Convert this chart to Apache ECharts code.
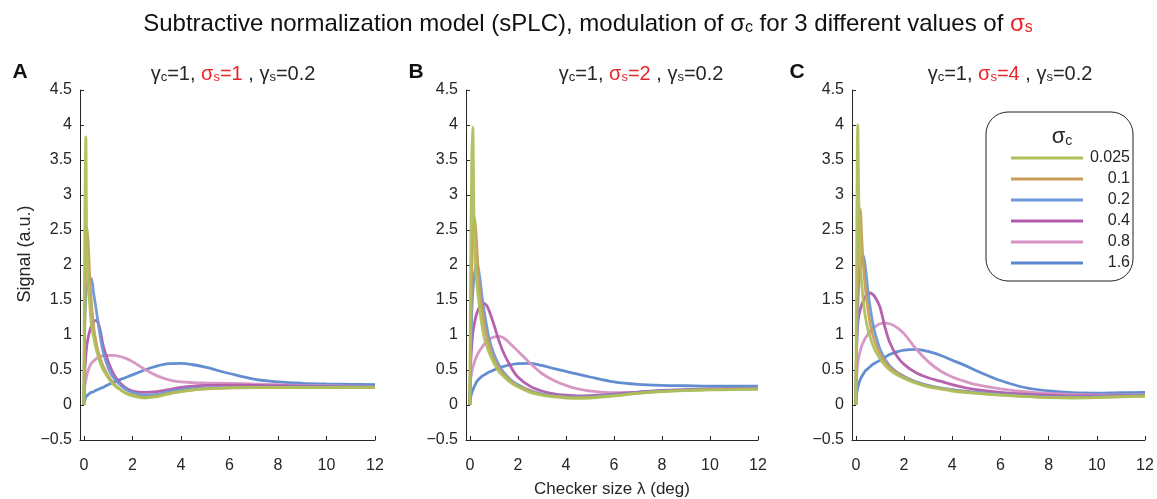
<!DOCTYPE html>
<html><head><meta charset="utf-8">
<script src="https://cdn.jsdelivr.net/npm/echarts@6/dist/echarts.min.js"></script>
<style>html,body{margin:0;padding:0;background:#fff}#c{width:1157px;height:499px}</style>
</head><body><div id="c"></div>
<script>
// ---- data ----
const X = [0, 0.03, 0.08, 0.12, 0.18, 0.25, 0.3, 0.4, 0.5, 0.6, 0.7, 0.8, 1, 1.2, 1.4, 1.7, 2, 2.5, 3, 3.5, 4, 4.5, 5, 6, 7, 8, 9, 10, 11, 12];
const sigmaC = ['0.025', '0.1', '0.2', '0.4', '0.8', '1.6'];
const xTicks = [0, 2, 4, 6, 8, 10, 12];

// Panel A (sigma_s = 1)
const a025 = [0, 2.2, 3.83, 2.3, 1.75, 1.4, 1.17, 0.97, 0.81, 0.68, 0.58, 0.5, 0.39, 0.3, 0.24, 0.17, 0.13, 0.1, 0.12, 0.16, 0.19, 0.215, 0.23, 0.245, 0.25, 0.25, 0.25, 0.25, 0.25, 0.25];
const a010 = [0, 1.0, 2.1, 2.55, 2.3, 1.75, 1.5, 1.12, 0.9, 0.75, 0.64, 0.55, 0.42, 0.32, 0.25, 0.18, 0.14, 0.11, 0.125, 0.165, 0.195, 0.215, 0.23, 0.245, 0.25, 0.25, 0.25, 0.25, 0.25, 0.25];
const a020 = [0, 1.1, 1.55, 1.68, 1.77, 1.8, 1.81, 1.6, 1.38, 1.15, 0.93, 0.75, 0.53, 0.4, 0.32, 0.23, 0.18, 0.14, 0.15, 0.19, 0.22, 0.235, 0.245, 0.25, 0.255, 0.255, 0.26, 0.26, 0.26, 0.26];
const a040 = [0, 0.45, 0.7, 0.85, 0.97, 1.07, 1.12, 1.19, 1.21, 1.16, 1.02, 0.84, 0.62, 0.46, 0.35, 0.25, 0.2, 0.18, 0.19, 0.22, 0.25, 0.27, 0.28, 0.285, 0.28, 0.275, 0.27, 0.265, 0.26, 0.26];
const a080 = [0, 0.25, 0.35, 0.42, 0.5, 0.56, 0.59, 0.63, 0.66, 0.68, 0.695, 0.705, 0.71, 0.71, 0.7, 0.67, 0.62, 0.51, 0.42, 0.36, 0.33, 0.32, 0.315, 0.31, 0.3, 0.29, 0.28, 0.275, 0.27, 0.265];
const a160 = [0, 0.06, 0.11, 0.13, 0.15, 0.17, 0.18, 0.19, 0.21, 0.225, 0.24, 0.255, 0.29, 0.32, 0.35, 0.39, 0.43, 0.5, 0.555, 0.59, 0.595, 0.575, 0.54, 0.45, 0.37, 0.33, 0.31, 0.3, 0.295, 0.29];

// Panel B (sigma_s = 2)
const b025 = [0, 1.8, 3.5, 3.97, 2.5, 1.9, 1.7, 1.4, 1.15, 0.96, 0.85, 0.75, 0.6, 0.48, 0.41, 0.32, 0.26, 0.18, 0.14, 0.115, 0.1, 0.095, 0.1, 0.13, 0.165, 0.19, 0.205, 0.215, 0.22, 0.225];
const b010 = [0, 0.9, 1.9, 2.4, 2.7, 2.5, 2.2, 1.65, 1.38, 1.15, 0.98, 0.85, 0.65, 0.53, 0.44, 0.34, 0.27, 0.2, 0.15, 0.125, 0.11, 0.105, 0.11, 0.135, 0.17, 0.195, 0.21, 0.22, 0.225, 0.23];
const b020 = [0, 0.7, 1.3, 1.6, 1.85, 1.97, 2.01, 1.85, 1.57, 1.33, 1.13, 0.95, 0.73, 0.58, 0.47, 0.36, 0.29, 0.21, 0.16, 0.135, 0.12, 0.115, 0.12, 0.145, 0.175, 0.2, 0.215, 0.225, 0.23, 0.235];
const b040 = [0, 0.55, 0.85, 1.02, 1.15, 1.26, 1.32, 1.4, 1.44, 1.45, 1.42, 1.35, 1.15, 0.93, 0.75, 0.55, 0.4, 0.27, 0.2, 0.16, 0.14, 0.13, 0.135, 0.155, 0.185, 0.21, 0.22, 0.23, 0.235, 0.235];
const b080 = [0, 0.35, 0.47, 0.53, 0.6, 0.67, 0.71, 0.77, 0.82, 0.87, 0.91, 0.94, 0.97, 0.98, 0.96, 0.87, 0.77, 0.6, 0.45, 0.35, 0.28, 0.23, 0.2, 0.175, 0.185, 0.2, 0.215, 0.225, 0.235, 0.24];
const b160 = [0, 0.1, 0.17, 0.21, 0.26, 0.31, 0.34, 0.38, 0.41, 0.43, 0.45, 0.47, 0.5, 0.53, 0.55, 0.575, 0.59, 0.595, 0.565, 0.52, 0.48, 0.44, 0.4, 0.33, 0.295, 0.28, 0.275, 0.27, 0.27, 0.27];

// Panel C (sigma_s = 4)
const c025 = [0, 2.0, 4.0, 3.0, 2.05, 1.72, 1.52, 1.25, 1.08, 0.96, 0.86, 0.78, 0.66, 0.57, 0.5, 0.43, 0.38, 0.31, 0.26, 0.23, 0.2, 0.18, 0.165, 0.14, 0.12, 0.105, 0.1, 0.105, 0.115, 0.125];
const c010 = [0, 0.9, 1.9, 2.5, 2.8, 2.35, 2.05, 1.65, 1.37, 1.15, 1.0, 0.89, 0.73, 0.62, 0.54, 0.46, 0.4, 0.32, 0.27, 0.235, 0.21, 0.19, 0.17, 0.145, 0.125, 0.11, 0.105, 0.11, 0.12, 0.13];
const c020 = [0, 0.8, 1.4, 1.7, 1.95, 2.1, 2.14, 1.95, 1.63, 1.38, 1.17, 1.02, 0.8, 0.66, 0.56, 0.47, 0.41, 0.33, 0.28, 0.245, 0.22, 0.2, 0.18, 0.155, 0.135, 0.12, 0.115, 0.12, 0.13, 0.14];
const c040 = [0, 0.8, 1.15, 1.27, 1.36, 1.44, 1.48, 1.55, 1.59, 1.6, 1.58, 1.54, 1.4, 1.12, 0.9, 0.7, 0.58, 0.46, 0.39, 0.34, 0.29, 0.25, 0.22, 0.18, 0.155, 0.14, 0.13, 0.13, 0.135, 0.14];
const c080 = [0, 0.4, 0.6, 0.68, 0.77, 0.85, 0.89, 0.96, 1.01, 1.06, 1.1, 1.12, 1.16, 1.17, 1.16, 1.11, 1.02, 0.8, 0.62, 0.49, 0.4, 0.34, 0.29, 0.23, 0.19, 0.165, 0.15, 0.145, 0.145, 0.15];
const c160 = [0, 0.15, 0.25, 0.3, 0.36, 0.41, 0.44, 0.49, 0.52, 0.55, 0.58, 0.6, 0.64, 0.68, 0.72, 0.76, 0.785, 0.795, 0.765, 0.71, 0.64, 0.57, 0.49, 0.35, 0.25, 0.2, 0.175, 0.17, 0.175, 0.18];

const panels = [
  [a025, a010, a020, a040, a080, a160],
  [b025, b010, b020, b040, b080, b160],
  [c025, c010, c020, c040, c080, c160]
];

// ---- style ----
const FONT = '"Liberation Sans", Arial, Helvetica, sans-serif';
const INK = '#262626';
const RED = '#e8262a';
const colors = ['#aec05c', '#c99f58', '#6a98d6', '#b25aa9', '#d592c3', '#5b87cf'];
const gridBoxes = [
  { left: 80, top: 90, width: 295, height: 350 },
  { left: 466, top: 90, width: 292, height: 350 },
  { left: 852, top: 90, width: 293, height: 350 }
];

const chart = echarts.init(document.getElementById('c'), null, { renderer: 'canvas' });

const grids = gridBoxes.map(g => Object.assign({ containLabel: false, outerBoundsMode: 'none' }, g));

const xAxes = gridBoxes.map((g, i) => ({
  type: 'value', gridIndex: i, min: -0.16, max: 12,
  axisLine: { show: true, onZero: false, lineStyle: { color: INK, width: 1 } },
  axisTick: { show: true, inside: true, length: 4, customValues: xTicks, lineStyle: { color: INK } },
  axisLabel: { customValues: xTicks, margin: 18, fontSize: 16, color: INK, fontFamily: FONT },
  splitLine: { show: false },
  name: i === 1 ? 'Checker size λ (deg)' : '',
  nameLocation: 'middle', nameGap: 41,
  nameTextStyle: { fontSize: 17, color: INK, fontFamily: FONT }
}));

const yAxes = gridBoxes.map((g, i) => ({
  type: 'value', gridIndex: i, min: -0.5, max: 4.5, interval: 0.5,
  axisLine: { show: true, onZero: false, lineStyle: { color: INK, width: 1 } },
  axisTick: { show: true, inside: true, length: 4, lineStyle: { color: INK } },
  axisLabel: { margin: 8, fontSize: 16, color: INK, fontFamily: FONT,
    formatter: v => (v < 0 ? '\u2212' + Math.abs(v) : String(v)) },
  splitLine: { show: false }
}));

const series = [];
panels.forEach((arrs, p) => {
  arrs.forEach((arr, k) => {
    series.push({
      type: 'line', name: sigmaC[k], xAxisIndex: p, yAxisIndex: p,
      data: X.map((x, i) => [x, arr[i]]),
      showSymbol: false, smooth: 0.35, clip: true,
      lineStyle: { width: 2.8, color: colors[k], opacity: 0.95 },
      itemStyle: { color: colors[k] },
      emphasis: { disabled: true },
      z: 2 + (5 - k) * 0.1
    });
  });
});

const sub = (size) => ({ fontSize: size, lineHeight: size - 1, verticalAlign: 'bottom', fontFamily: FONT });

function header(x, sVal) {
  return {
    type: 'text', x: x, y: 72,
    style: {
      text: '{n|γ}{sb|c}{n|=1, }{r|σ}{rs|s}{r|=' + sVal + '}{n| , }{n|γ}{sb|s}{n|=0.2}',
      align: 'center', verticalAlign: 'middle',
      rich: {
        n: { fontSize: 20, lineHeight: 24, verticalAlign: 'bottom', fill: INK, fontFamily: FONT },
        r: { fontSize: 20, lineHeight: 24, verticalAlign: 'bottom', fill: RED, fontFamily: FONT },
        sb: Object.assign(sub(13), { fill: INK }),
        rs: Object.assign(sub(13), { fill: RED })
      }
    }
  };
}

const graphics = [
  {
    type: 'text', x: 588, y: 22,
    style: {
      text: '{n|Subtractive normalization model (sPLC), modulation of σ}{sb|c}{n| for 3 different values of }{r|σ}{rs|s}',
      align: 'center', verticalAlign: 'middle',
      rich: {
        n: { fontSize: 24, lineHeight: 28, verticalAlign: 'bottom', fill: '#111', fontFamily: FONT },
        r: { fontSize: 24, lineHeight: 28, verticalAlign: 'bottom', fill: RED, fontFamily: FONT },
        sb: Object.assign(sub(16), { fill: '#111' }),
        rs: Object.assign(sub(16), { fill: RED })
      }
    }
  },
  header(233, '1'), header(641, '2'), header(1010, '4'),
  { type: 'text', x: 20, y: 72, style: { text: 'A', align: 'center', verticalAlign: 'middle', font: 'bold 21px ' + FONT, fill: '#111' } },
  { type: 'text', x: 416, y: 72, style: { text: 'B', align: 'center', verticalAlign: 'middle', font: 'bold 21px ' + FONT, fill: '#111' } },
  { type: 'text', x: 797, y: 72, style: { text: 'C', align: 'center', verticalAlign: 'middle', font: 'bold 21px ' + FONT, fill: '#111' } },
  { type: 'text', x: 25, y: 254, rotation: Math.PI / 2,
    style: { text: 'Signal (a.u.)', align: 'center', verticalAlign: 'middle', font: '18px ' + FONT, fill: INK } },
  {
    type: 'text', x: 1062, y: 136, z: 100,
    style: {
      text: '{s|σ}{c|c}', align: 'center', verticalAlign: 'middle',
      rich: {
        s: { fontSize: 22, lineHeight: 24, verticalAlign: 'bottom', fill: INK, fontFamily: FONT },
        c: { fontSize: 14, lineHeight: 13, verticalAlign: 'bottom', fill: INK, fontFamily: FONT }
      }
    }
  }
];

chart.setOption({
  animation: false,
  textStyle: { fontFamily: FONT },
  grid: grids,
  xAxis: xAxes,
  yAxis: yAxes,
  legend: {
    data: sigmaC, orient: 'vertical', left: 986, top: 112,
    padding: [38, 3, 10, 25], itemWidth: 72, itemHeight: 3, itemGap: 5,
    icon: 'rect', selectedMode: false,
    backgroundColor: '#fff', borderColor: '#222', borderWidth: 1, borderRadius: 22,
    formatter: name => '{r|' + name + '}',
    textStyle: { rich: { r: { width: 42, align: 'right', fontSize: 16, lineHeight: 16, color: INK, fontFamily: FONT } } }
  },
  graphic: graphics,
  series: series
});
</script>
</body></html>
